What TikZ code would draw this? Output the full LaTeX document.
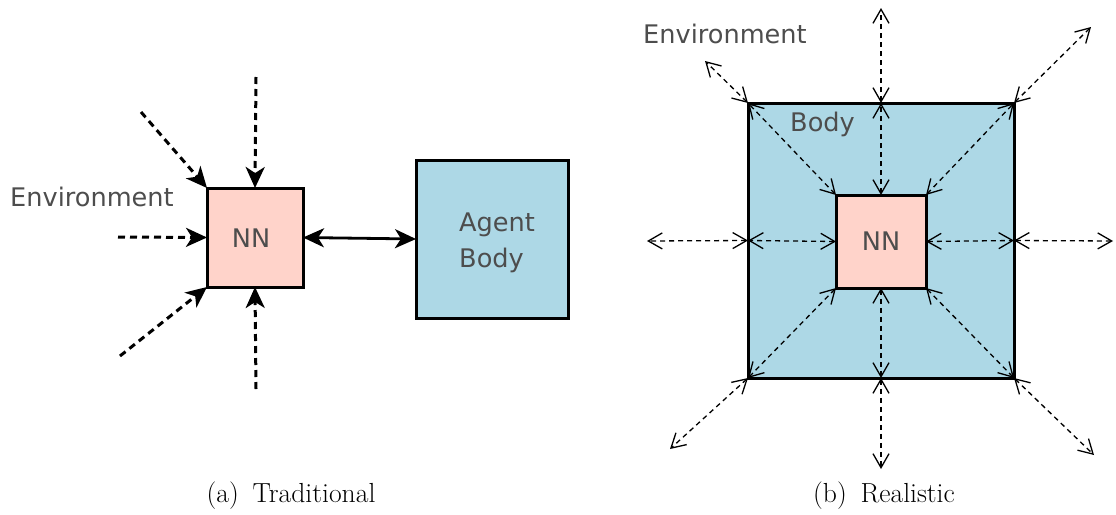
\documentclass[tikz,border=0pt]{standalone}
\usepackage{fontspec}
\newfontfamily\labelfont{DejaVu Sans}
\usetikzlibrary{arrows.meta}

\definecolor{nnfill}{RGB}{255,211,202}
\definecolor{bodyfill}{RGB}{173,216,230}
\definecolor{labelgrey}{RGB}{77,77,77}

\tikzset{
  box/.style={draw=black, line width=3pt, inner sep=0pt, outer sep=0pt},
  nnbox/.style={box, fill=nnfill},
  bodybox/.style={box, fill=bodyfill},
  lbl/.style={text=labelgrey, font=\labelfont\fontsize{25.6}{36}\selectfont, inner sep=0pt},
  subcaption/.style={font=\fontsize{27.6}{32}\selectfont, inner sep=0pt},
  sense/.style={line width=3pt, dash pattern=on 7pt off 5pt,
    -{Stealth[length=21pt,width=19pt,inset=6pt]}},
  link/.style={line width=2.8pt,
    {Stealth[length=21pt,width=19pt,inset=6pt]}-{Stealth[length=21pt,width=19pt,inset=6pt]}},
  flow/.style={line width=1.3pt, dash pattern=on 5pt off 4pt,
    {Straight Barb[length=14pt,width=16pt,line width=1.3pt]}-{Straight Barb[length=14pt,width=16pt,line width=1.3pt]}},
}

\begin{document}
\begin{tikzpicture}[x=1pt, y=-1pt]
  \useasboundingbox (0,0) rectangle (1116,514);

  % ---------- (a) Traditional ----------
  \node[nnbox, minimum width=96pt, minimum height=99pt] (nnA) at (255,237.5) {};
  \node[lbl] at (251,238) {NN};
  \node[bodybox, minimum width=152pt, minimum height=158pt] (agent) at (492,239) {};
  \node[lbl, anchor=west, align=left] at (459,243) {Agent\\Body};
  \node[lbl, anchor=west] at (10,197) {Environment};

  \coordinate (sN)  at (256,77);
  \coordinate (sNW) at (141,112);
  \coordinate (sW)  at (118,237);
  \coordinate (sSW) at (120,356);
  \coordinate (sS)  at (256,389);

  \draw[sense] (sN)  -- (nnA.north);
  \draw[sense] (sNW) -- (nnA.north west);
  \draw[sense] (sW)  -- (nnA.west);
  \draw[sense] (sSW) -- (nnA.south west);
  \draw[sense] (sS)  -- (nnA.south);
  \draw[link] (nnA.east) -- (agent.west);

  \node[subcaption] at (291,496) {(a)\enspace Traditional};

  % ---------- (b) Realistic ----------
  \node[bodybox, minimum width=266pt, minimum height=275pt] (bodyB) at (881,240.5) {};
  \node[nnbox, minimum width=90pt, minimum height=93pt] (nnB) at (881,241.5) {};
  \node[lbl] at (nnB.center) {NN};
  \node[lbl, anchor=west] at (790,124) {Body};
  \node[lbl, anchor=west] at (643,34) {Environment};

  % body to network
  \foreach \a in {north, north west, north east, west, east, south west, south, south east}
    \draw[flow] (nnB.\a) -- (bodyB.\a);

  % environment to body
  \coordinate (eN)  at (881,8);
  \coordinate (eNW) at (705,61);
  \coordinate (eNE) at (1091,27);
  \coordinate (eW)  at (647,241);
  \coordinate (eE)  at (1113,241);
  \coordinate (eSW) at (670,449);
  \coordinate (eS)  at (881,469);
  \coordinate (eSE) at (1094,455);

  \draw[flow] (bodyB.north)      -- (eN);
  \draw[flow] (bodyB.north west) -- (eNW);
  \draw[flow] (bodyB.north east) -- (eNE);
  \draw[flow] (bodyB.west)       -- (eW);
  \draw[flow] (bodyB.east)       -- (eE);
  \draw[flow] (bodyB.south west) -- (eSW);
  \draw[flow] (bodyB.south)      -- (eS);
  \draw[flow] (bodyB.south east) -- (eSE);

  \node[subcaption] at (884,496) {(b)\enspace Realistic};
\end{tikzpicture}
\end{document}
